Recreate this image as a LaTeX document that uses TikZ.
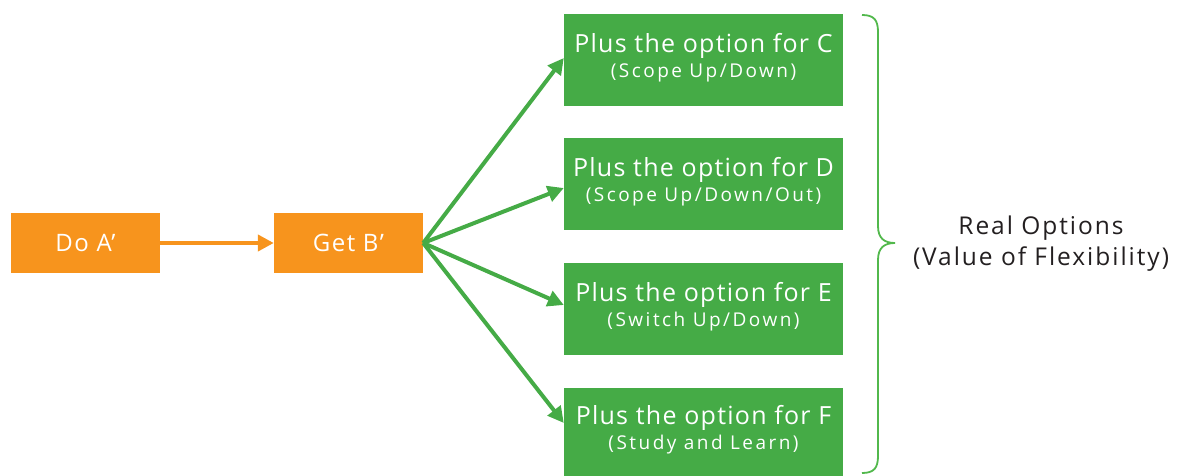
\documentclass[tikz,border=0pt]{standalone}
\usepackage{fontspec}
\setmainfont{Open Sans}
\newfontfamily\stepfont[LetterSpace=6]{Open Sans}
\newfontfamily\titlefont[LetterSpace=5]{Open Sans}
\newfontfamily\subfont[LetterSpace=13]{Open Sans}
\newfontfamily\labelfont[LetterSpace=8]{Open Sans}
\usetikzlibrary{arrows.meta}
\definecolor{boxorange}{HTML}{F7941D}
\definecolor{boxgreen}{HTML}{45AB46}
\definecolor{bracegreen}{HTML}{52B84C}
\definecolor{labelgray}{HTML}{231F20}
\newcommand{\subline}[1]{{\subfont\fontsize{19}{20}\selectfont #1}}
\tikzset{
  stepbox/.style={rectangle, fill=boxorange, text=white, inner sep=0pt,
    minimum width=149pt, minimum height=60pt, font=\stepfont\fontsize{24}{28}\selectfont},
  optbox/.style={rectangle, fill=boxgreen, text=white, inner sep=0pt, align=center,
    minimum width=279pt, minimum height=92pt, text depth=9pt,
    font=\titlefont\fontsize{25}{27}\selectfont},
  flow/.style={line width=4pt, -{Triangle[length=16pt,width=16pt]}},
}
\begin{document}
\begin{tikzpicture}[x=1pt,y=-1pt]
\useasboundingbox (0,0) rectangle (1178,476);

\node[stepbox] (a) at (85.5,243) {Do A’};
\node[stepbox] (b) at (348.5,243) {Get B’};

\node[optbox] (c) at (703.5,60) {Plus the option for C\\[-2pt]\subline{(Scope Up/Down)}};
\node[optbox] (d) at (703.5,184) {Plus the option for D\\[-2pt]\subline{(Scope Up/Down/Out)}};
\node[optbox] (e) at (703.5,309) {Plus the option for E\\[-2pt]\subline{(Switch Up/Down)}};
\node[optbox, minimum height=88pt] (f) at (703.5,432) {Plus the option for F\\[-2pt]\subline{(Study and Learn)}};

\draw[flow, draw=boxorange, fill=boxorange] (a.east) -- (b.west);
\draw[flow, draw=boxgreen, fill=boxgreen] (b.east) -- ([yshift=2pt]c.west);
\draw[flow, draw=boxgreen, fill=boxgreen] (b.east) -- ([yshift=-4pt]d.west);
\draw[flow, draw=boxgreen, fill=boxgreen] (b.east) -- ([yshift=4pt]e.west);
\draw[flow, draw=boxgreen, fill=boxgreen] (b.east) -- ([yshift=9pt]f.west);

% curly brace grouping the four options
\draw[bracegreen, line width=1.8pt]
  (862,15) .. controls (874,15) and (878,20) .. (878,32)
  -- (878,226) .. controls (878,238) and (884,243) .. (895,243)
  .. controls (884,243) and (878,248) .. (878,260)
  -- (878,456) .. controls (878,468) and (874,473) .. (862,473);

\node[text=labelgray, align=center, font=\labelfont\fontsize{24.5}{31}\selectfont] (ro) at (1041,244)
  {Real Options\\(Value of Flexibility)};
\end{tikzpicture}
\end{document}
